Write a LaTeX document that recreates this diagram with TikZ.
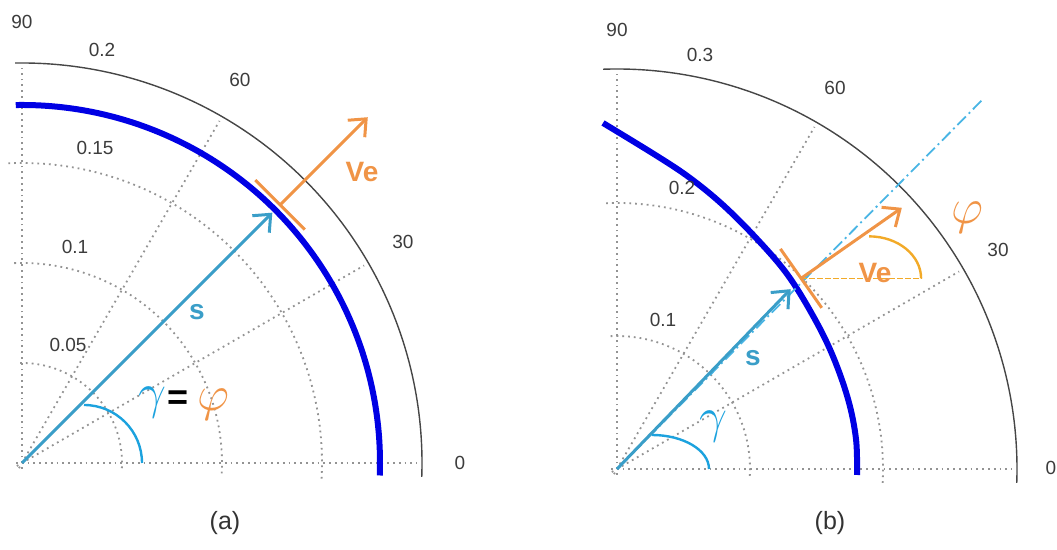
\documentclass[tikz,border=0pt]{standalone}
\usepackage{fontspec}
\setmainfont{Liberation Sans}
\usetikzlibrary{arrows.meta}

\definecolor{sblue}{RGB}{58,158,200}
\definecolor{gblue}{RGB}{28,162,222}
\definecolor{veorange}{RGB}{240,148,70}
\definecolor{phiyellow}{RGB}{242,170,40}
\definecolor{ringblue}{RGB}{0,0,228}
\definecolor{axgray}{RGB}{60,60,60}

\begin{document}
\begin{tikzpicture}[x=0.5pt,y=0.5pt, grid/.style={gray!85,dotted,line width=0.9pt}, rim/.style={draw=gray!55!black,line width=0.7pt}, ring/.style={ringblue,line width=3pt}, tick/.style={text=axgray,font=\fontsize{9.5}{11}\selectfont}, vec/.style={line width=1.5pt,-{Straight Barb[length=7pt,width=12pt]}}, bar/.style={veorange,line width=1.5pt}, sym/.style={font=\fontsize{24}{26}\selectfont}, caplabel/.style={font=\fontsize{12.5}{14}\selectfont,text=black!80}]
\useasboundingbox (0,0) rectangle (1057,550);

% (a) constant heading
\begin{scope}[shift={(22,87)}]
\coordinate (oa) at (0,0);
\foreach \a in {0,30,60,90} \draw[grid] (\a+180:6) -- (\a:395);
\foreach \r in {100,200,300} \draw[grid] (-3:\r) arc[start angle=-3,end angle=93,radius=\r];
\draw[rim] (-2:400) arc[start angle=-2,end angle=91,radius=400];
\draw[ring] (-2:358) arc[start angle=-2,end angle=91,radius=358];
\node[tick] (a90) at (0,441) {90};
\node[tick] (a02) at (80,413) {0.2};
\node[tick] (a60) at (218,383) {60};
\node[tick] (a015) at (73,315) {0.15};
\node[tick] (a01) at (53,216) {0.1};
\node[tick] (a005) at (46,118) {0.05};
\node[tick] (a30) at (381,221) {30};
\node[tick] (a0) at (438,0) {0};
\coordinate (sa) at (45:354);
\coordinate (ca) at (45:365);
\draw[vec,sblue] (oa) -- (sa);
\draw[bar] (ca) ++(135:35) -- ++(-45:70);
\draw[vec,veorange] (ca) -- ++(45:124) coordinate (va);
\draw[gblue,line width=1.2pt] (62,58) arc[start angle=90,end angle=0,radius=58];
\node[text=sblue,font=\fontsize{14}{16}\selectfont\bfseries] (sla) at (175,151) {s};
\node[text=veorange,font=\fontsize{14}{16}\selectfont\bfseries] (vla) at (340,291) {Ve};
\node[sym,text=gblue] (ga) at (130,60) {$\gamma$};
\node[sym,font=\fontsize{18}{20}\selectfont\bfseries] (eqa) at (156,63) {=};
\node[sym,text=veorange] (pa) at (191,58) {$\varphi$};
\end{scope}
\node[caplabel] (capa) at (225,27) {(a)};

% (b) tilted heading
\begin{scope}[shift={(617,81)}]
\coordinate (ob) at (0,0);
\foreach \a in {0,30,60,90} \draw[grid] (\a+180:6) -- (\a:395);
\foreach \r in {133,266} \draw[grid] (-3:\r) arc[start angle=-3,end angle=93,radius=\r];
\draw[rim] (-2:400) arc[start angle=-2,end angle=92,radius=400];
\draw[ring] plot[smooth,tension=0.6] coordinates {(240,-6) (239,30) (231,70) (215,115) (195,155) (170,195) (140,230) (106,264) (73,291) (40,313) (-14,346)};
\node[tick] (b90) at (0,439) {90};
\node[tick] (b03) at (83,414) {0.3};
\node[tick] (b60) at (218,381) {60};
\node[tick] (b02) at (65,281) {0.2};
\node[tick] (b01) at (46,149) {0.1};
\node[tick] (b30) at (381,219) {30};
\node[tick] (b0) at (434,1) {0};
\coordinate (sb) at (46:250);
\coordinate (cb) at (46:265);
\coordinate (eb) at (45.3:520);
\draw[gblue!80,line width=0.9pt,dash pattern=on 6pt off 2pt on 1pt off 2pt] (ob) -- (eb);
\draw[vec,sblue] (ob) -- (sb);
\draw[phiyellow,line width=0.6pt,dash pattern=on 3pt off 1pt] (cb) -- ++(121,0) coordinate (hb);
\draw[bar] (cb) ++(125:36) -- ++(-55:72);
\draw[vec,veorange] (cb) -- ++(35:123) coordinate (vb);
\draw[phiyellow,line width=1.2pt] (cb) ++(68,42) arc[start angle=90,end angle=0,x radius=52,y radius=42];
\draw[gblue,line width=1.2pt] (35,34) arc[start angle=90,end angle=0,x radius=57,y radius=34];
\node[text=sblue,font=\fontsize{14}{16}\selectfont\bfseries] (slb) at (136,111) {s};
\node[text=veorange,font=\fontsize{14}{16}\selectfont\bfseries] (vlb) at (258,196) {Ve};
\node[sym,text=gblue] (gb) at (96,42) {$\gamma$};
\node[sym,text=veorange] (pb) at (350,251) {$\varphi$};
\end{scope}
\node[caplabel] (capb) at (830,27) {(b)};
\end{tikzpicture}
\end{document}
